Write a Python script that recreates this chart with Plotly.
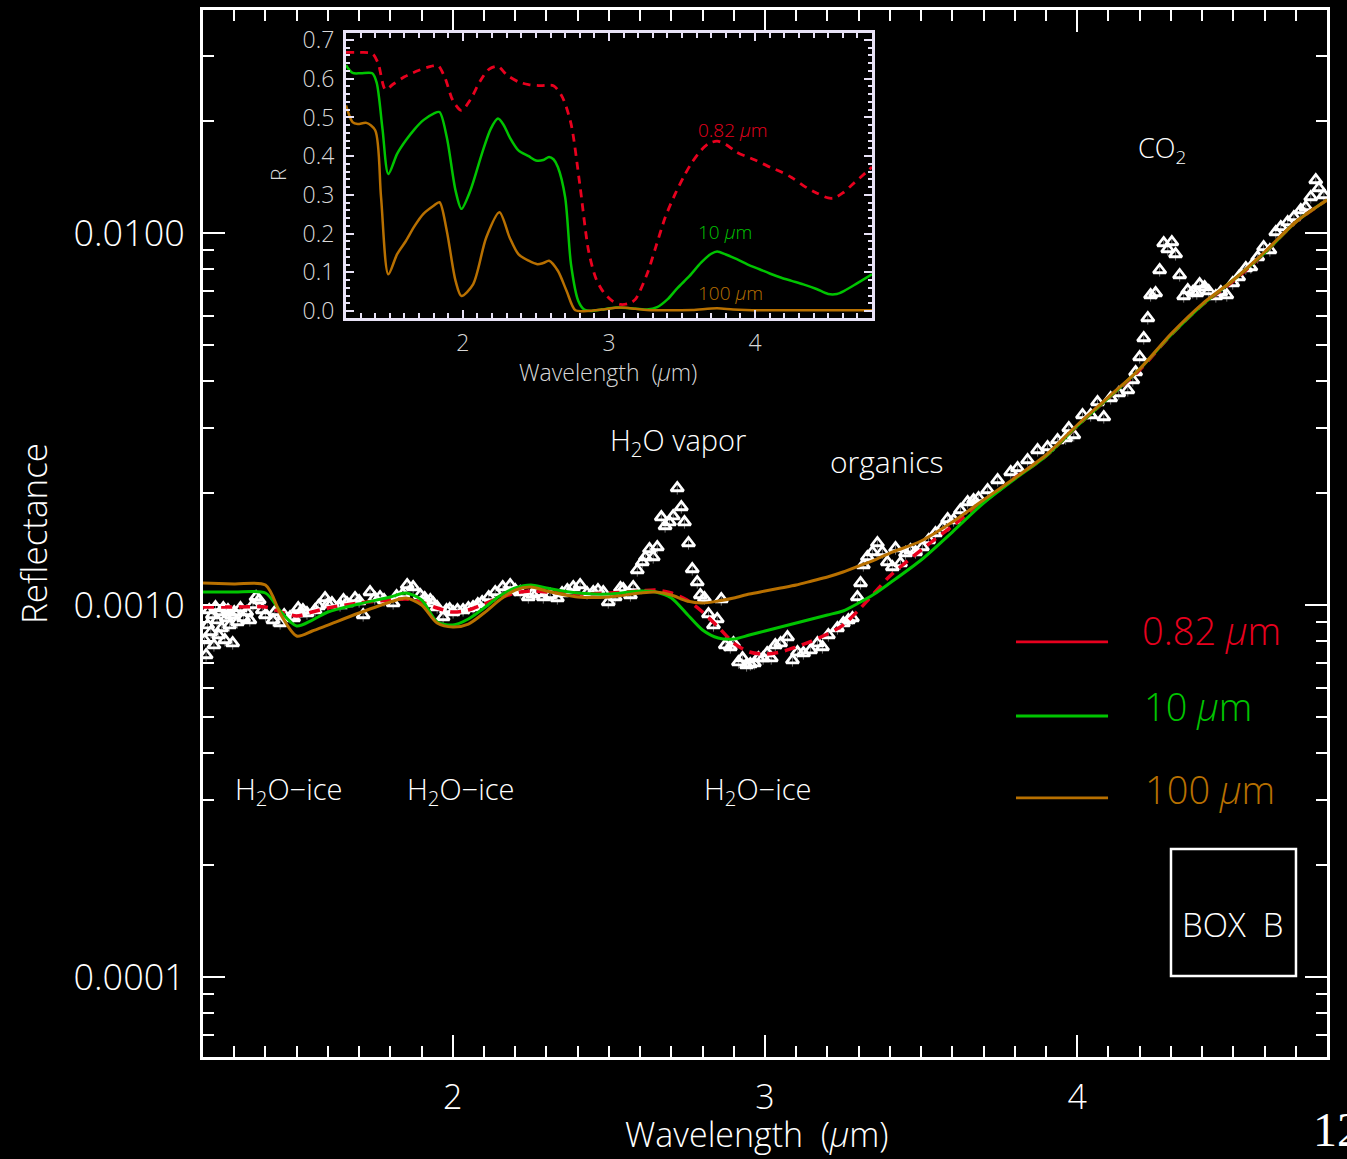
import plotly.graph_objects as go
import numpy as np

# ---------------- observed spectrum (main panel) ----------------
obs_wl = [1.205, 1.210, 1.215, 1.220, 1.225, 1.230, 1.235, 1.240, 1.245, 1.250, 1.255, 1.260, 1.265, 1.270,
          1.275, 1.280, 1.285, 1.290, 1.295, 1.300, 1.310, 1.320, 1.330, 1.340, 1.350, 1.360, 1.370, 1.380,
          1.390, 1.400, 1.424, 1.430, 1.447, 1.460, 1.479, 1.490, 1.505, 1.511, 1.520, 1.533, 1.559, 1.570,
          1.591, 1.600, 1.613, 1.639, 1.650, 1.661, 1.687, 1.700, 1.713, 1.735, 1.750, 1.767, 1.780, 1.809,
          1.820, 1.840, 1.854, 1.873, 1.896, 1.910, 1.928, 1.937, 1.950, 1.969, 1.980, 1.990, 2.001, 2.015,
          2.033, 2.050, 2.065, 2.080, 2.094, 2.115, 2.136, 2.160, 2.184, 2.200, 2.216, 2.242, 2.255, 2.270,
          2.290, 2.312, 2.335, 2.350, 2.367, 2.386, 2.408, 2.430, 2.450, 2.465, 2.482, 2.498, 2.520, 2.537,
          2.546, 2.569, 2.578, 2.591, 2.607, 2.617, 2.630, 2.642, 2.655, 2.668, 2.680, 2.694, 2.706, 2.719,
          2.732, 2.742, 2.755, 2.767, 2.783, 2.793, 2.806, 2.819, 2.835, 2.847, 2.860, 2.873, 2.889, 2.899,
          2.915, 2.928, 2.941, 2.953, 2.966, 2.979, 2.994, 3.007, 3.020, 3.033, 3.050, 3.072, 3.088, 3.104,
          3.123, 3.146, 3.168, 3.184, 3.203, 3.232, 3.251, 3.267, 3.280, 3.296, 3.306, 3.315, 3.328, 3.344,
          3.360, 3.376, 3.392, 3.408, 3.418, 3.434, 3.450, 3.466, 3.482, 3.504, 3.524, 3.546, 3.569, 3.585,
          3.604, 3.626, 3.649, 3.668, 3.684, 3.713, 3.745, 3.787, 3.809, 3.841, 3.873, 3.905, 3.937, 3.963,
          3.973, 3.989, 4.017, 4.043, 4.065, 4.085, 4.107, 4.133, 4.162, 4.178, 4.187, 4.200, 4.213, 4.226,
          4.235, 4.251, 4.264, 4.277, 4.290, 4.303, 4.315, 4.328, 4.341, 4.354, 4.370, 4.383, 4.392, 4.408,
          4.421, 4.444, 4.460, 4.479, 4.498, 4.517, 4.540, 4.556, 4.578, 4.597, 4.617, 4.636, 4.652, 4.674,
          4.694, 4.716, 4.732, 4.748, 4.764, 4.774, 4.790]
# reflectance in units of 1e-3
obs_refl_milli = [0.8052, 0.7338, 0.8835, 0.9695, 0.8461, 0.9400, 0.7806, 0.9877, 0.9112, 0.8305, 0.9576, 0.8673,
                  0.9816, 0.8052, 0.9227, 0.9695, 0.8835, 0.9400, 0.7903, 0.9576, 0.9001, 0.9816, 0.9227, 0.9576,
                  0.9112, 1.0000, 1.0508, 1.0314, 0.9695, 0.9400, 0.9112, 0.9576, 0.8946, 0.9400, 0.9284, 0.9227,
                  0.9816, 0.9517, 0.9695, 0.9517, 0.9695, 0.9938, 1.0443, 1.0062, 1.0124, 1.0000, 1.0314, 1.0124,
                  1.0443, 1.0251, 0.9400, 1.0838, 1.0443, 1.0508, 1.0314, 1.0124, 1.0573, 1.0705, 1.1318, 1.1179,
                  1.0639, 1.0443, 1.0314, 1.0124, 0.9877, 0.9284, 0.9695, 0.9755, 0.9576, 0.9695, 0.9695, 0.9816,
                  0.9877, 1.0062, 1.0187, 1.0508, 1.0838, 1.1179, 1.1318, 1.0973, 1.0838, 1.0508, 1.0705, 1.0771,
                  1.0508, 1.0639, 1.0443, 1.0771, 1.0973, 1.1179, 1.1318, 1.0771, 1.0838, 1.0973, 1.0838, 1.0187,
                  1.0508, 1.1110, 1.1041, 1.0639, 1.1179, 1.2419, 1.3049, 1.3460, 1.4143, 1.3460, 1.4319, 1.7240,
                  1.6307, 1.6714, 1.7347, 2.0631, 1.8342, 1.6714, 1.4678, 1.2496, 1.1530, 1.0639, 1.0443, 0.9458,
                  0.8835, 0.9170, 1.0378, 0.7806, 0.7711, 0.7903, 0.7025, 0.7200, 0.6895, 0.6938, 0.6981, 0.7200,
                  0.7200, 0.7429, 0.7200, 0.7806, 0.7903, 0.8202, 0.7113, 0.7475, 0.7429, 0.7568, 0.7903, 0.7711,
                  0.8305, 0.8673, 0.8946, 0.9112, 0.9227, 1.0508, 1.1459, 1.2809, 1.3460, 1.3883, 1.4678, 1.3883,
                  1.3049, 1.2652, 1.4230, 1.2969, 1.3797, 1.4055, 1.3883, 1.4319, 1.4953, 1.5615, 1.6206, 1.7028,
                  1.6923, 1.8004, 1.8918, 1.9154, 1.9393, 2.0377, 2.1678, 2.2778, 2.3350, 2.4535, 2.6101, 2.6591,
                  2.7768, 2.8114, 2.9910, 2.8643, 3.2415, 3.2415, 3.5131, 3.2019, 3.6013, 3.7144, 3.7840, 4.0257,
                  4.2300, 4.6418, 5.2211, 5.9090, 6.8131, 6.8982, 7.9534, 9.3993, 9.0567, 9.4577, 8.7809, 7.7107,
                  6.7710, 7.0277, 6.9410, 6.8982, 7.2926, 7.1587, 6.9842, 6.7710, 6.9410, 6.8131, 7.3379, 7.6159,
                  8.0525, 8.1024, 8.6194, 9.1698, 9.0007, 10.063, 10.379, 10.705, 11.042, 11.530, 11.746, 12.496,
                  13.883, 13.212, 12.652]

# ---------------- model spectra (main panel) ----------------
model_wl = [1.20, 1.30, 1.40, 1.45, 1.50, 1.55, 1.60, 1.70, 1.80, 1.85, 1.90, 1.95, 2.00, 2.05, 2.10, 2.15,
            2.20, 2.25, 2.30, 2.40, 2.50, 2.60, 2.65, 2.70, 2.75, 2.80, 2.85, 2.90, 2.95, 3.00, 3.05, 3.10,
            3.15, 3.20, 3.25, 3.30, 3.35, 3.40, 3.50, 3.60, 3.70, 3.80, 3.90, 4.00, 4.10, 4.20, 4.30, 4.40,
            4.50, 4.60, 4.70, 4.80]
model_082_milli = [0.9877, 0.9877, 0.9877, 0.9576, 0.9342, 0.9576, 0.9816, 1.0124, 1.0314, 1.0378, 1.0187, 0.9816,
                   0.9576, 0.9695, 1.0062, 1.0443, 1.0771, 1.0905, 1.0838, 1.0705, 1.0771, 1.0905, 1.0973, 1.0771,
                   1.0314, 0.9576, 0.8727, 0.7903, 0.7475, 0.7384, 0.7475, 0.7711, 0.8003, 0.8357, 0.8835, 0.9695,
                   1.0771, 1.1965, 1.4055, 1.6307, 1.8918, 2.1948, 2.5150, 3.0283, 3.6013, 4.2828, 5.3187, 6.4037,
                   7.4300, 8.8354, 10.705, 12.266]
model_10_milli = [1.0838, 1.0838, 1.0771, 0.9576, 0.8781, 0.9112, 0.9576, 1.0062, 1.0508, 1.0771, 1.0314, 0.9001,
                  0.8835, 0.9170, 0.9816, 1.0573, 1.1110, 1.1318, 1.1110, 1.0771, 1.0705, 1.0905, 1.0838, 1.0443,
                  0.9458, 0.8566, 0.8152, 0.8102, 0.8305, 0.8514, 0.8727, 0.8946, 0.9170, 0.9400, 0.9635, 1.0124,
                  1.0705, 1.1459, 1.3212, 1.5712, 1.8801, 2.1813, 2.5150, 3.0283, 3.6013, 4.3094, 5.3187, 6.4037,
                  7.4762, 8.8354, 10.705, 12.266]
model_100_milli = [1.1459, 1.1388, 1.1318, 0.9400, 0.8254, 0.8514, 0.8835, 0.9517, 1.0187, 1.0443, 1.0000, 0.8946,
                   0.8727, 0.8890, 0.9517, 1.0314, 1.0973, 1.1179, 1.0905, 1.0508, 1.0508, 1.0771, 1.0838, 1.0639,
                   1.0251, 1.0124, 1.0251, 1.0443, 1.0705, 1.0905, 1.1110, 1.1318, 1.1602, 1.1892, 1.2266, 1.2728,
                   1.3212, 1.3797, 1.4861, 1.6714, 1.9154, 2.1948, 2.5306, 3.0470, 3.6236, 4.3094, 5.3517, 6.4434,
                   7.4762, 8.8902, 10.705, 12.266]

# ---------------- inset: single scattering spectra R ----------------
inset_082_wl = [1.20, 1.30, 1.38, 1.42, 1.47, 1.52, 1.60, 1.70, 1.78, 1.83, 1.88, 1.93, 1.99, 2.05, 2.12, 2.18,
                2.24, 2.30, 2.38, 2.45, 2.53, 2.62, 2.68, 2.74, 2.80, 2.86, 2.91, 2.96, 3.02, 3.08, 3.14, 3.18,
                3.26, 3.32, 3.385, 3.45, 3.51, 3.57, 3.63, 3.68, 3.74, 3.80, 3.875, 4.00, 4.10, 4.18, 4.25, 4.33,
                4.42, 4.50, 4.54, 4.60, 4.66, 4.72, 4.80]
inset_082_R = [0.668, 0.668, 0.665, 0.640, 0.572, 0.585, 0.605, 0.622, 0.632, 0.634, 0.600, 0.545, 0.518, 0.545,
               0.595, 0.625, 0.632, 0.610, 0.592, 0.585, 0.582, 0.582, 0.553, 0.484, 0.328, 0.156, 0.085, 0.050,
               0.027, 0.017, 0.020, 0.030, 0.095, 0.165, 0.242, 0.300, 0.346, 0.385, 0.415, 0.432, 0.439, 0.430,
               0.410, 0.390, 0.372, 0.359, 0.345, 0.324, 0.305, 0.292, 0.292, 0.305, 0.325, 0.345, 0.372]
inset_10_wl = [1.20, 1.245, 1.30, 1.38, 1.41, 1.45, 1.49, 1.55, 1.61, 1.67, 1.73, 1.80, 1.84, 1.89, 1.95, 1.99,
               2.05, 2.13, 2.19, 2.24, 2.28, 2.32, 2.38, 2.45, 2.50, 2.55, 2.59, 2.62, 2.65, 2.70, 2.74, 2.79,
               2.83, 2.87, 2.95, 3.05, 3.15, 3.26, 3.33, 3.40, 3.47, 3.55, 3.63, 3.70, 3.74, 3.80, 3.875, 3.95,
               4.03, 4.10, 4.18, 4.25, 4.33, 4.42, 4.50, 4.56, 4.61, 4.70, 4.80]
inset_10_R = [0.635, 0.615, 0.614, 0.614, 0.590, 0.470, 0.354, 0.406, 0.441, 0.470, 0.493, 0.510, 0.514, 0.449,
              0.311, 0.264, 0.310, 0.406, 0.470, 0.497, 0.480, 0.449, 0.415, 0.400, 0.389, 0.390, 0.398, 0.392,
              0.372, 0.294, 0.121, 0.026, 0.004, 0.000, 0.004, 0.009, 0.007, 0.004, 0.010, 0.030, 0.060, 0.090,
              0.125, 0.148, 0.154, 0.146, 0.134, 0.120, 0.108, 0.097, 0.086, 0.078, 0.069, 0.057, 0.044, 0.044,
              0.052, 0.072, 0.095]
inset_100_wl = [1.20, 1.245, 1.28, 1.34, 1.40, 1.44, 1.49, 1.55, 1.61, 1.67, 1.73, 1.80, 1.84, 1.89, 1.95, 1.99,
                2.07, 2.16, 2.25, 2.32, 2.38, 2.45, 2.51, 2.55, 2.59, 2.65, 2.71, 2.77, 2.87, 2.95, 3.08, 3.18,
                3.26, 3.40, 3.57, 3.74, 3.85, 4.03, 4.40, 4.80]
inset_100_R = [0.531, 0.488, 0.483, 0.486, 0.467, 0.294, 0.095, 0.147, 0.181, 0.220, 0.251, 0.272, 0.281, 0.207,
               0.078, 0.039, 0.069, 0.190, 0.255, 0.190, 0.147, 0.130, 0.121, 0.124, 0.130, 0.104, 0.052, 0.002,
               0.001, 0.004, 0.009, 0.006, 0.003, 0.002, 0.003, 0.007, 0.004, 0.002, 0.002, 0.002]

# ---------------- annotated bands ----------------
ice_bands = [(1.40, 1.60), (1.85, 2.18), (2.65, 3.40)]
vapor_band = (2.50, 2.90)
organics_band = (3.20, 3.50)
co2_band = (4.15, 4.40)

RED = "#e8001e"
GREEN = "#00c400"
BROWN = "#b87000"
WHITE = "#ffffff"
GREY = "#8a8a8a"
INSET_FRAME = "#e8e2f6"
INSET_TXT = "#d8d8d8"
FONT = "Open Sans"
W = 300  # light weight, closer to the thin plotting font of the original

fig = go.Figure()

fig.add_trace(go.Scatter(
    x=obs_wl, y=[v * 1e-3 for v in obs_refl_milli], mode="markers",
    marker=dict(symbol="triangle-up-open", size=11, color=WHITE, line=dict(width=2.8, color=WHITE)),
    error_y=dict(type="percent", value=4, color="#777777", thickness=1, width=0),
    showlegend=False))
fig.add_trace(go.Scatter(x=model_wl, y=[v * 1e-3 for v in model_082_milli], mode="lines",
                         line=dict(color=RED, width=3.5, dash="11px,7px", shape="spline", smoothing=0.8),
                         showlegend=False))
fig.add_trace(go.Scatter(x=model_wl, y=[v * 1e-3 for v in model_10_milli], mode="lines",
                         line=dict(color=GREEN, width=3, shape="spline", smoothing=0.8), showlegend=False))
fig.add_trace(go.Scatter(x=model_wl, y=[v * 1e-3 for v in model_100_milli], mode="lines",
                         line=dict(color=BROWN, width=3, shape="spline", smoothing=0.8), showlegend=False))

# inset
fig.add_trace(go.Scatter(x=inset_082_wl, y=inset_082_R, mode="lines", xaxis="x2", yaxis="y2",
                         line=dict(color=RED, width=2.8, dash="8px,6px", shape="spline", smoothing=0.8),
                         showlegend=False))
fig.add_trace(go.Scatter(x=inset_10_wl, y=inset_10_R, mode="lines", xaxis="x2", yaxis="y2",
                         line=dict(color=GREEN, width=2.5, shape="spline", smoothing=0.8), showlegend=False))
fig.add_trace(go.Scatter(x=inset_100_wl, y=inset_100_R, mode="lines", xaxis="x2", yaxis="y2",
                         line=dict(color=BROWN, width=2.5, shape="spline", smoothing=0.8), showlegend=False))

minor_y = [k * 10.0 ** e for e in range(-5, -1) for k in range(2, 10)]

fig.update_layout(
    width=1347, height=1159, autosize=False,
    margin=dict(l=203, r=20, t=10, b=102, autoexpand=False),
    paper_bgcolor="black", plot_bgcolor="black",
    font=dict(family=FONT, color=WHITE, size=30, weight=W),
    xaxis=dict(range=[1.2, 4.8], automargin=False, showgrid=False, zeroline=False, showline=True,
               linecolor=WHITE, linewidth=3, mirror="allticks", ticks="inside", ticklen=22, tickwidth=2,
               tickcolor=WHITE, tickvals=[2, 3, 4], ticktext=["2", "3", "4"],
               tickfont=dict(size=34, color=WHITE, weight=W), ticklabelstandoff=8,
               minor=dict(ticks="inside", ticklen=11, tickwidth=2, tickcolor=WHITE, dtick=0.1, showgrid=False)),
    yaxis=dict(type="log", range=[-4.215, -1.4005], automargin=False, showgrid=False, zeroline=False,
               showline=True, linecolor=WHITE, linewidth=3, mirror="allticks", ticks="inside", ticklen=22,
               tickwidth=2, tickcolor=WHITE, tickvals=[1e-4, 1e-3, 1e-2],
               ticktext=["0.0001", "0.0010", "0.0100"],
               tickfont=dict(size=36, color=WHITE, weight=W), ticklabelstandoff=8,
               minor=dict(ticks="inside", ticklen=11, tickwidth=2, tickcolor=WHITE, tickvals=minor_y,
                          showgrid=False)),
    xaxis2=dict(domain=[0.1272, 0.5952], anchor="y2", range=[1.2, 4.8], automargin=False, showgrid=False,
                zeroline=False, showline=True, linecolor=INSET_FRAME, linewidth=3, mirror="allticks",
                ticks="inside", ticklen=8, tickwidth=2, tickcolor=INSET_FRAME, tickvals=[2, 3, 4],
                tickfont=dict(size=23, color=INSET_TXT, weight=W), ticklabelstandoff=2,
                minor=dict(ticks="inside", ticklen=5, tickwidth=2, tickcolor=INSET_FRAME, dtick=0.1)),
    yaxis2=dict(domain=[0.7058, 0.9780], anchor="x2", range=[-0.018, 0.718], automargin=False,
                showgrid=False, zeroline=False, showline=True, linecolor=INSET_FRAME, linewidth=3,
                mirror="allticks", ticks="inside", ticklen=8, tickwidth=2, tickcolor=INSET_FRAME, dtick=0.1,
                tick0=0, tickformat=".1f", tickfont=dict(size=23, color=INSET_TXT, weight=W),
                ticklabelstandoff=4,
                minor=dict(ticks="inside", ticklen=4, tickwidth=1.5, tickcolor=INSET_FRAME, dtick=0.02)),
)

shapes = []
lg = np.log10
ice_top, ice_bot = 7.0e-4, 5.0e-4
for a, b in ice_bands:
    shapes.append(dict(type="path", xref="x", yref="y",
                       path=f"M {a},{lg(ice_top)} L {a},{lg(ice_bot)} L {b},{lg(ice_bot)} L {b},{lg(ice_top)}",
                       line=dict(color=GREY, width=1.5)))


def cap(band, top, bot):
    a, b = band
    return dict(type="path", xref="x", yref="y",
                path=f"M {a},{lg(bot)} L {a},{lg(top)} L {b},{lg(top)} L {b},{lg(bot)}",
                line=dict(color=GREY, width=1.5))


shapes.append(cap(vapor_band, 2.3e-3, 1.82e-3))
shapes.append(cap(organics_band, 2.0e-3, 1.61e-3))
shapes.append(cap(co2_band, 1.3e-2, 1.0e-2))

# legend lines
for yy, col in [(0.3964, RED), (0.3257, GREEN), (0.2474, BROWN)]:
    shapes.append(dict(type="line", xref="paper", yref="paper", x0=0.7233, x1=0.8052, y0=yy, y1=yy,
                       line=dict(color=col, width=2.8)))
# BOX B
shapes.append(dict(type="rect", xref="paper", yref="paper", x0=0.8612, x1=0.9724, y0=0.0774, y1=0.1987,
                   line=dict(color=WHITE, width=2.5)))
fig.update_layout(shapes=shapes)

ann = []


def txt(x, y, s, size, color=WHITE, xanchor="center", angle=0, family=FONT, weight=W):
    ann.append(dict(xref="paper", yref="paper", x=x, y=y, text=s, showarrow=False, xanchor=xanchor,
                    yanchor="middle", textangle=angle,
                    font=dict(size=size, color=color, family=family, weight=weight)))


txt(0.0765, 0.2550, "H<sub>2</sub>O−ice", 29)
txt(0.2295, 0.2550, "H<sub>2</sub>O−ice", 29)
txt(0.4929, 0.2550, "H<sub>2</sub>O−ice", 29)
txt(0.4226, 0.5874, "H<sub>2</sub>O vapor", 29)
txt(0.6077, 0.5683, "organics", 30)
txt(0.8532, 0.8672, "CO<sub>2</sub>", 27)
txt(0.8336, 0.4078, "0.82 <i>µ</i>m", 38, RED, "left")
txt(0.8354, 0.3352, "10 <i>µ</i>m", 38, GREEN, "left")
txt(0.8363, 0.2560, "100 <i>µ</i>m", 38, BROWN, "left")
txt(0.9155, 0.1270, "BOX  B", 33)
txt(0.4929, -0.0735, "Wavelength  (<i>µ</i>m)", 34)
txt(-0.1513, 0.5004, "Reflectance", 35, angle=-90)
# inset texts
txt(0.3603, 0.6543, "Wavelength  (<i>µ</i>m)", 23, INSET_TXT)
txt(0.0667, 0.8424, "R", 21, INSET_TXT, angle=-90)
txt(0.4715, 0.8854, "0.82 <i>µ</i>m", 19, RED)
txt(0.4644, 0.7880, "10 <i>µ</i>m", 19, GREEN)
txt(0.4689, 0.7297, "100 <i>µ</i>m", 19, BROWN)
# page number fragment
txt(0.9858, -0.0697, "12", 48, WHITE, "left", family="Liberation Serif", weight=400)
fig.update_layout(annotations=ann)

fig.write_html("out.html", config={"displayModeBar": False},
               post_script="document.body.style.margin='0';document.body.style.background='black';"
                           "document.body.style.overflow='hidden';")
